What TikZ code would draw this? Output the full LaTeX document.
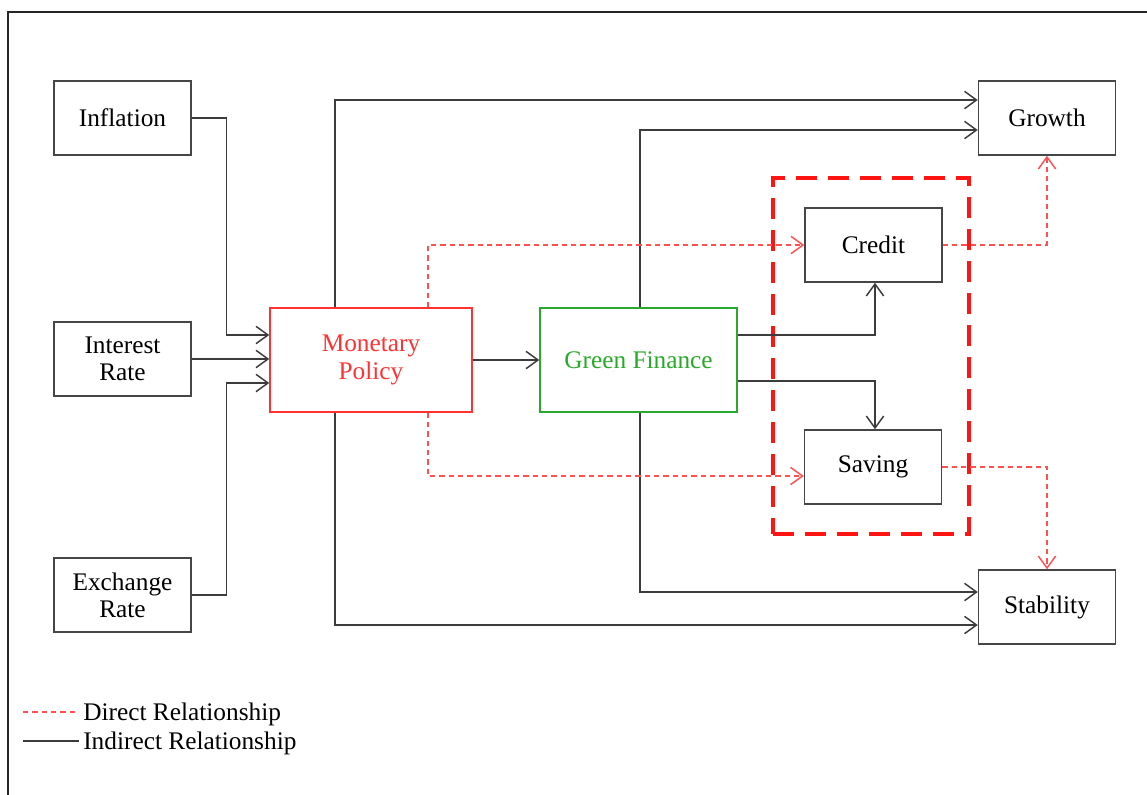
\documentclass[tikz,border=0pt]{standalone}
\usepackage{fontspec}
\setmainfont{Liberation Serif}
\usetikzlibrary{arrows.meta,calc}
\definecolor{boxline}{RGB}{70,70,70}
\definecolor{conline}{RGB}{60,60,60}
\definecolor{monred}{RGB}{255,50,50}
\definecolor{dirred}{RGB}{255,80,80}
\definecolor{grpred}{RGB}{255,20,20}
\definecolor{gfgreen}{RGB}{40,170,40}
\begin{document}
\begin{tikzpicture}[x=0.75pt,y=-0.75pt,
  every node/.style={font=\fontsize{19}{20}\selectfont},
  sbox/.style={draw=boxline,line width=1.1pt,rectangle,minimum width=102.75pt,minimum height=55.5pt,align=center,inner sep=0pt},
  bbox/.style={rectangle,line width=1.1pt,minimum height=78pt,align=center,inner sep=0pt},
  tip/.style={-{Straight Barb[length=9pt,width=13pt,line width=1.1pt]}},
  ind/.style={draw=conline,line width=1.1pt,tip},
  dir/.style={draw=dirred,line width=1.1pt,dash pattern=on 4pt off 3pt,tip},
  legtext/.style={anchor=west,inner sep=0pt}
]
\useasboundingbox (0,0) rectangle (1147,794);
% frame
\draw[line width=2pt,black!85] (8,810) -- (8,12) -- (1160,12);

% nodes
\node[sbox] (inf) at (122.5,118) {Inflation};
\node[sbox] (ir) at (122.5,359) {Interest\\Rate};
\node[sbox] (er) at (122.5,595) {Exchange\\Rate};
\node[bbox,draw=monred,text=monred,minimum width=151.5pt] (mon) at (371,360) {\raisebox{-3pt}{\shortstack{Monetary\\[1pt]Policy}}};
\node[bbox,draw=gfgreen,text=gfgreen,minimum width=147.75pt] (gf) at (638.5,360) {Green Finance};
\node[draw=grpred,line width=2.5pt,dash pattern=on 16pt off 8pt,rectangle,minimum width=147pt,minimum height=267pt,inner sep=0pt] (grp) at (871,356) {};
\node[sbox] (cr) at (873.5,245) {Credit};
\node[sbox] (sav) at (873,467) {Saving};
\node[sbox] (gro) at (1047,118) {Growth};
\node[sbox] (sta) at (1047,607) {Stability};

% indirect connectors
\draw[ind] (inf.east) -- ++(35,0) |- ($(mon.west)+(0,-25)$);
\draw[ind] (ir.east) -- (ir.east -| mon.west);
\draw[ind] (er.east) -- ++(35,0) |- ($(mon.west)+(0,23)$);
\draw[ind] (mon.east) -- (gf.west);
\draw[ind] ($(mon.north)+(-36,0)$) |- ($(gro.west)+(0,-18)$);
\draw[ind] ($(mon.south)+(-36,0)$) |- ($(sta.west)+(0,18)$);
\draw[ind] ($(gf.north)+(1.5,0)$) |- ($(gro.west)+(0,12)$);
\draw[ind] ($(gf.south)+(1.5,0)$) |- ($(sta.west)+(0,-15)$);
\draw[ind] ($(gf.east)+(0,-25)$) -| ($(cr.south)+(1.5,0)$);
\draw[ind] ($(gf.east)+(0,21)$) -| ($(sav.north)+(2,0)$);

% direct connectors
\draw[dir] ($(mon.north)+(57,0)$) |- (cr.west);
\draw[dir] ($(mon.south)+(57,0)$) |- ($(sav.west)+(0,9)$);
\draw[dir] (cr.east) -| (gro.south);
\draw[dir] (sav.east) -| (sta.north);

% legend
\coordinate (l1a) at (23,712);
\coordinate (l1b) at (79,712);
\coordinate (l2a) at (23,741);
\coordinate (l2b) at (79,741);
\draw[draw=dirred,line width=1.1pt,dash pattern=on 4pt off 3pt] (l1a) -- (l1b);
\draw[draw=conline,line width=1.1pt] (l2a) -- (l2b);
\node[legtext] (lt1) at (83,714) {Direct Relationship};
\node[legtext] (lt2) at (83,743) {Indirect Relationship};
\end{tikzpicture}
\end{document}
